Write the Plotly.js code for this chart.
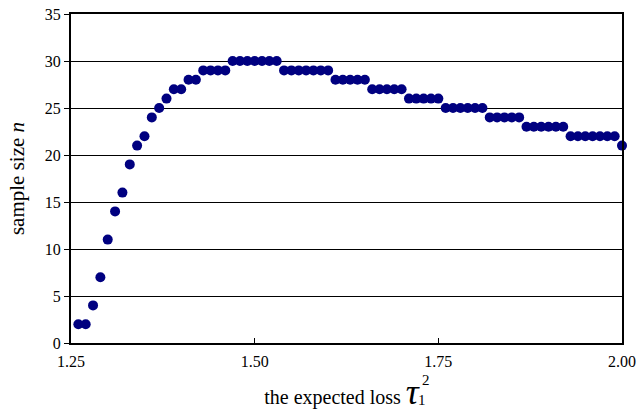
<!DOCTYPE html>
<html>
<head>
<meta charset="utf-8">
<script src="https://cdn.plot.ly/plotly-3.0.1.min.js"></script>
<style>html,body{margin:0;padding:0;background:#fff;}#chart{width:639px;height:414px;}</style>
</head>
<body>
<div id="chart"></div>
<script>
// expected loss tau_1^2 (x) and sample size n (y)
const expectedLoss = [
  1.26,1.27,1.28,1.29,1.30,1.31,1.32,1.33,1.34,1.35,
  1.36,1.37,1.38,1.39,1.40,1.41,1.42,1.43,1.44,1.45,
  1.46,1.47,1.48,1.49,1.50,1.51,1.52,1.53,1.54,1.55,
  1.56,1.57,1.58,1.59,1.60,1.61,1.62,1.63,1.64,1.65,
  1.66,1.67,1.68,1.69,1.70,1.71,1.72,1.73,1.74,1.75,
  1.76,1.77,1.78,1.79,1.80,1.81,1.82,1.83,1.84,1.85,
  1.86,1.87,1.88,1.89,1.90,1.91,1.92,1.93,1.94,1.95,
  1.96,1.97,1.98,1.99,2.00
];
const sampleSize = [
  2,2,4,7,11,14,16,19,21,22,
  24,25,26,27,27,28,28,29,29,29,
  29,30,30,30,30,30,30,30,29,29,
  29,29,29,29,29,28,28,28,28,28,
  27,27,27,27,27,26,26,26,26,26,
  25,25,25,25,25,25,24,24,24,24,
  24,23,23,23,23,23,23,22,22,22,
  22,22,22,22,21
];
const xTickVals = [1.25, 1.50, 1.75, 2.00];
const xTickText = ['1.25', '1.50', '1.75', '2.00'];
const yTickVals = [0, 5, 10, 15, 20, 25, 30, 35];

const fam = 'Liberation Serif';
const f = (size) => ({family: fam, size: size, color: '#000'});

Plotly.newPlot('chart', [{
  x: expectedLoss,
  y: sampleSize,
  type: 'scatter',
  mode: 'markers',
  marker: {color: '#000080', size: 10},
  cliponaxis: false,
  hoverinfo: 'skip'
}], {
  width: 639, height: 414,
  margin: {l: 71, r: 17, t: 14, b: 71},
  paper_bgcolor: '#fff', plot_bgcolor: '#fff',
  showlegend: false,
  font: f(16),
  xaxis: {
    range: [1.25, 2.00],
    tickvals: xTickVals, ticktext: xTickText,
    ticks: 'inside', ticklen: 5, tickwidth: 1, tickcolor: '#000',
    ticklabelstandoff: 3,
    showgrid: false, zeroline: false,
    showline: true, linecolor: '#000', linewidth: 2, mirror: true,
    tickfont: f(16),
    title: {text: 'the expected loss <span style="font-size:36px"><i>τ</i></span>&#160;&#160;', font: f(20), standoff: 21}
  },
  yaxis: {
    range: [0, 35],
    tickvals: yTickVals,
    ticks: 'outside', ticklen: 5, tickwidth: 1, tickcolor: '#000',
    showgrid: true, gridcolor: '#000', gridwidth: 1,
    zeroline: false,
    showline: true, linecolor: '#000', linewidth: 2, mirror: true,
    tickfont: f(16),
    title: {text: 'sample size <i>n</i>', font: f(21), standoff: 14}
  },
  annotations: [
    {text: '2', xref: 'paper', yref: 'paper', x: 0.645, y: -0.1125, xanchor: 'center', yanchor: 'middle', showarrow: false, font: f(15)},
    {text: '1', xref: 'paper', yref: 'paper', x: 0.637, y: -0.173, xanchor: 'center', yanchor: 'middle', showarrow: false, font: f(15)}
  ]
}, {displayModeBar: false, staticPlot: true});
</script>
</body>
</html>
